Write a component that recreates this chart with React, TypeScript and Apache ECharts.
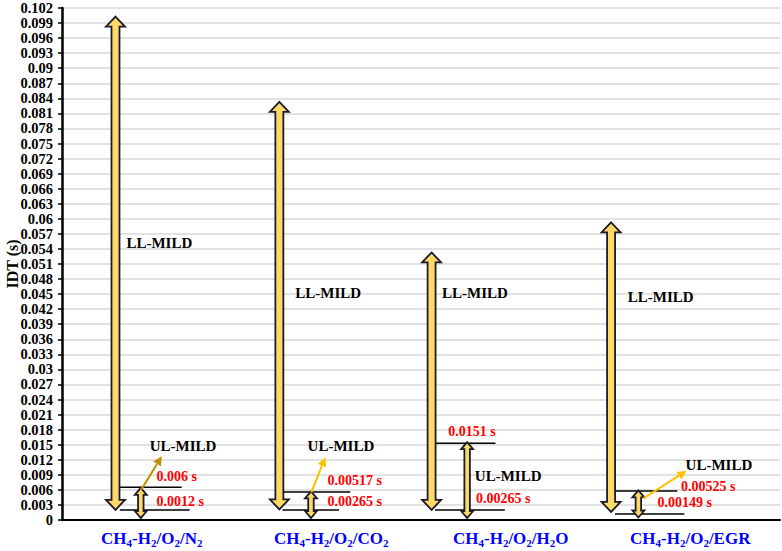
import React, { useEffect, useRef } from 'react';
import * as echarts from 'echarts';

// Categories (x axis)
const categories = ['CH4-H2/O2/N2', 'CH4-H2/O2/CO2', 'CH4-H2/O2/H2O', 'CH4-H2/O2/EGR'];

// Y axis
const yMin = 0;
const yMax = 0.102;
const yInterval = 0.003;

// LL-MILD large double arrows (x in category units, y in seconds)
const llX = [0.298, 1.211, 2.059, 3.059];
const llTop = [0.1003, 0.0833, 0.0533, 0.0593];
const llBottom = [0.0020, 0.0021, 0.0020, 0.0016];

// UL-MILD small double arrows
const ulX = [0.439, 1.387, 2.257, 3.211];
const ulTop = [0.0064, 0.0057, 0.0155, 0.0059];
const ulBottom = [0.0004, 0.0004, 0.0004, 0.0005];

// Horizontal marker lines
const upperLineY = [0.0065, 0.0056, 0.0153, 0.0058];
const upperLineX0 = [0.317, 1.222, 2.081, 3.083];
const upperLineX1 = [0.667, 1.606, 2.415, 3.428];
const lowerLineY = [0.0020, 0.0020, 0.0020, 0.0012];
const lowerLineX0 = [0.322, 1.228, 2.078, 3.081];
const lowerLineX1 = [0.711, 1.544, 2.467, 3.467];

// Pointer arrows (from -> to)
const pointerFromX = [0.439, 1.389, 3.239];
const pointerFromY = [0.0059, 0.0055, 0.0043];
const pointerToX = [0.556, 1.467, 3.479];
const pointerToY = [0.0127, 0.0125, 0.0098];
const pointerColors = ['#BF9000', '#FFC000', '#FFC000'];

// Region labels
const regionTexts = ['LL-MILD', 'LL-MILD', 'LL-MILD', 'LL-MILD', 'UL-MILD', 'UL-MILD', 'UL-MILD', 'UL-MILD'];
const regionX = [0.359, 1.3, 2.117, 3.152, 0.489, 1.368, 2.3, 3.474];
const regionY = [0.0551, 0.0452, 0.0452, 0.0444, 0.01466, 0.01466, 0.0087, 0.0109];

// Value labels (red)
const valueTexts = ['0.006 s', '0.0012 s', '0.00517 s', '0.00265 s', '0.0151 s', '0.00265 s', '0.00525 s', '0.00149 s'];
const valueX = [0.526, 0.526, 1.479, 1.479, 2.152, 2.307, 3.448, 3.318];
const valueY = [0.0087, 0.0036, 0.0079, 0.0036, 0.0177, 0.0042, 0.0066, 0.0034];

const FONT = "'Times New Roman', 'Liberation Serif', serif";
const ARROW_FILL = '#FFD966';
const ARROW_STROKE = '#1B1B2F';

function doubleArrow(api: any, shaftW: number, headW: number, headL: number) {
  const top = api.coord([api.value(0), api.value(1)]);
  const bot = api.coord([api.value(0), api.value(2)]);
  const x = top[0];
  const yT = top[1];
  const yB = bot[1];
  const s = shaftW / 2;
  const h = headW / 2;
  return {
    type: 'polygon',
    shape: {
      points: [
        [x, yT],
        [x + h, yT + headL],
        [x + s, yT + headL],
        [x + s, yB - headL],
        [x + h, yB - headL],
        [x, yB],
        [x - h, yB - headL],
        [x - s, yB - headL],
        [x - s, yT + headL],
        [x - h, yT + headL],
      ],
    },
    style: { fill: ARROW_FILL, stroke: ARROW_STROKE, lineWidth: 1.8, lineJoin: 'miter' },
  };
}

function richLabel(t: string) {
  const parts = t.split(/(\d)/).filter((p) => p.length > 0);
  return parts.map((p) => (/^\d$/.test(p) ? `{s|${p}}` : `{m|${p}}`)).join('');
}

export default function App() {
  const ref = useRef<HTMLDivElement>(null);

  useEffect(() => {
    const chart = echarts.init(ref.current!, null, { renderer: 'svg' });

    const option: any = {
      animation: false,
      backgroundColor: '#ffffff',
      grid: { left: 62, right: 2, top: 8, bottom: 31, containLabel: false, outerBoundsMode: 'none' },
      xAxis: [
        {
          type: 'category',
          data: categories,
          boundaryGap: true,
          axisLine: { show: true, lineStyle: { color: '#000', width: 2 } },
          axisTick: { show: false },
          splitLine: { show: false },
          axisLabel: {
            interval: 0,
            margin: 8,
            formatter: (v: string) => richLabel(v),
            rich: {
              m: { fontFamily: FONT, fontWeight: 'bold', fontSize: 17, color: '#0000FF', lineHeight: 20, verticalAlign: 'middle' },
              s: { fontFamily: FONT, fontWeight: 'bold', fontSize: 11, color: '#0000FF', lineHeight: 10, verticalAlign: 'bottom' },
            },
          },
        },
        { type: 'value', min: 0, max: 4, show: false },
      ],
      yAxis: {
        type: 'value',
        min: yMin,
        max: yMax,
        interval: yInterval,
        name: 'IDT (s)',
        nameLocation: 'middle',
        nameGap: 42,
        nameRotate: 90,
        nameMoveOverlap: false,
        nameTextStyle: { fontFamily: FONT, fontWeight: 'bold', fontSize: 16, color: '#000' },
        axisLine: { show: true, lineStyle: { color: '#000', width: 2.5 } },
        axisTick: { show: true, inside: false, length: 4, lineStyle: { color: '#000', width: 1.5 } },
        splitLine: { show: true, lineStyle: { color: '#D9D9D9', width: 1.5 } },
        axisLabel: {
          margin: 9,
          fontFamily: FONT,
          fontWeight: 'bold',
          fontSize: 14.5,
          color: '#000',
          formatter: (v: number) => String(parseFloat(v.toFixed(3))),
        },
      },
      series: [
        {
          type: 'custom',
          name: 'markerLines',
          xAxisIndex: 1,
          yAxisIndex: 0,
          clip: false,
          data: [
            ...upperLineY.map((y, i) => [upperLineX0[i], upperLineX1[i], y]),
            ...lowerLineY.map((y, i) => [lowerLineX0[i], lowerLineX1[i], y]),
          ],
          renderItem: (params: any, api: any) => {
            const p0 = api.coord([api.value(0), api.value(2)]);
            const p1 = api.coord([api.value(1), api.value(2)]);
            return {
              type: 'line',
              shape: { x1: p0[0], y1: p0[1], x2: p1[0], y2: p1[1] },
              style: { stroke: '#000', lineWidth: 1.5 },
            };
          },
        },
        {
          type: 'custom',
          name: 'LL-MILD',
          xAxisIndex: 1,
          yAxisIndex: 0,
          clip: false,
          data: llX.map((x, i) => [x, llTop[i], llBottom[i]]),
          renderItem: (params: any, api: any) => doubleArrow(api, 8, 19, 10),
        },
        {
          type: 'custom',
          name: 'UL-MILD',
          xAxisIndex: 1,
          yAxisIndex: 0,
          clip: false,
          data: ulX.map((x, i) => [x, ulTop[i], ulBottom[i]]),
          renderItem: (params: any, api: any) => doubleArrow(api, 5.5, 12, 7),
        },
        {
          type: 'custom',
          name: 'pointers',
          xAxisIndex: 1,
          yAxisIndex: 0,
          clip: false,
          data: pointerFromX.map((x, i) => [x, pointerFromY[i], pointerToX[i], pointerToY[i], i]),
          renderItem: (params: any, api: any) => {
            const a = api.coord([api.value(0), api.value(1)]);
            const b = api.coord([api.value(2), api.value(3)]);
            const color = pointerColors[api.value(4)];
            const dx = b[0] - a[0];
            const dy = b[1] - a[1];
            const len = Math.sqrt(dx * dx + dy * dy);
            const ux = dx / len;
            const uy = dy / len;
            const hl = 9;
            const hw = 4.5;
            const bx = b[0] - ux * hl;
            const by = b[1] - uy * hl;
            const nx = -uy;
            const ny = ux;
            return {
              type: 'group',
              children: [
                {
                  type: 'line',
                  shape: { x1: a[0], y1: a[1], x2: bx, y2: by },
                  style: { stroke: color, lineWidth: 2 },
                },
                {
                  type: 'polygon',
                  shape: { points: [[b[0], b[1]], [bx + nx * hw, by + ny * hw], [bx - nx * hw, by - ny * hw]] },
                  style: { fill: color },
                },
              ],
            };
          },
        },
        {
          type: 'custom',
          name: 'regionLabels',
          xAxisIndex: 1,
          yAxisIndex: 0,
          clip: false,
          data: regionX.map((x, i) => [x, regionY[i], i]),
          renderItem: (params: any, api: any) => {
            const p = api.coord([api.value(0), api.value(1)]);
            return {
              type: 'text',
              x: p[0],
              y: p[1],
              style: {
                text: regionTexts[api.value(2)],
                fill: '#000',
                fontFamily: FONT,
                fontWeight: 'bold',
                fontSize: 15,
                align: 'left',
                verticalAlign: 'middle',
              },
            };
          },
        },
        {
          type: 'custom',
          name: 'valueLabels',
          xAxisIndex: 1,
          yAxisIndex: 0,
          clip: false,
          data: valueX.map((x, i) => [x, valueY[i], i]),
          renderItem: (params: any, api: any) => {
            const p = api.coord([api.value(0), api.value(1)]);
            return {
              type: 'text',
              x: p[0],
              y: p[1],
              style: {
                text: valueTexts[api.value(2)],
                fill: '#FF0000',
                fontFamily: FONT,
                fontWeight: 'bold',
                fontSize: 14,
                align: 'left',
                verticalAlign: 'middle',
              },
            };
          },
        },
      ],
    };

    chart.setOption(option);
    return () => chart.dispose();
  }, []);

  return <div ref={ref} style={{ position: 'fixed', left: 0, top: 0, width: 782, height: 551 }} />;
}
